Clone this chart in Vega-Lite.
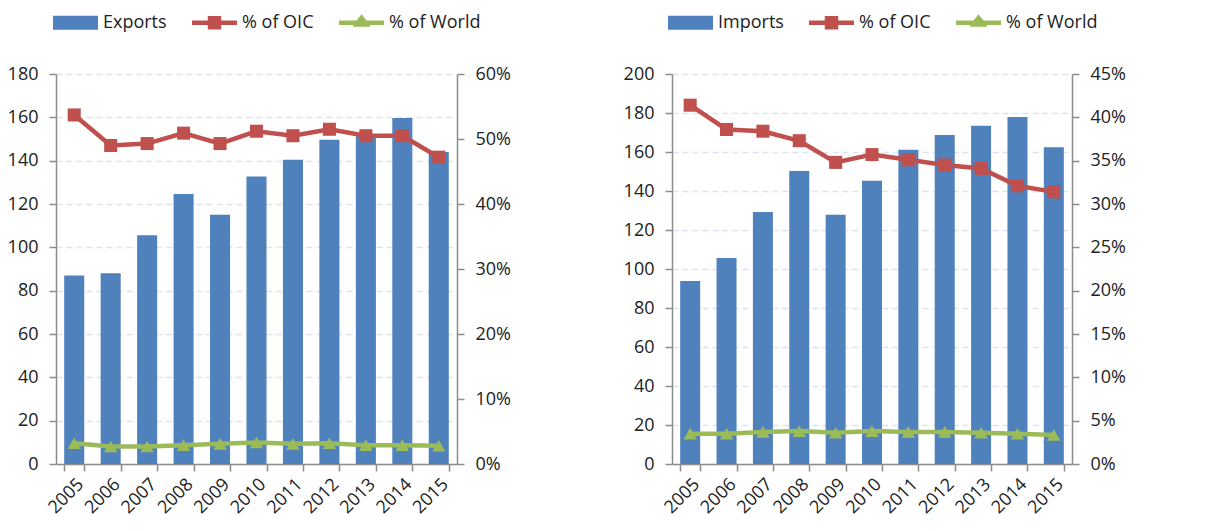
{
  "$schema": "https://vega.github.io/schema/vega-lite/v6.json",
  "background": "white",
  "padding": {"left": 7, "top": 0, "right": 5, "bottom": 0},
  "spacing": 112,
  "config": {
    "view": {"stroke": null},
    "font": "Open Sans",
    "axis": {"labelFont": "Open Sans", "labelFontSize": 18, "labelColor": "#222222", "domainColor": "#8C8C8C", "domainWidth": 1.5, "tickColor": "#8C8C8C", "tickWidth": 1.5, "tickSize": 7, "title": null},
    "legend": {"labelFont": "Open Sans", "labelFontSize": 18, "labelColor": "#222222"}
  },
  "datasets": {
    "exports": [
      {"year": "2005", "trade": 87, "oic": 0.537, "world": 0.032},
      {"year": "2006", "trade": 88, "oic": 0.490, "world": 0.027},
      {"year": "2007", "trade": 105.6, "oic": 0.493, "world": 0.027},
      {"year": "2008", "trade": 124.6, "oic": 0.509, "world": 0.029},
      {"year": "2009", "trade": 115, "oic": 0.493, "world": 0.031},
      {"year": "2010", "trade": 132.7, "oic": 0.512, "world": 0.033},
      {"year": "2011", "trade": 140.4, "oic": 0.505, "world": 0.031},
      {"year": "2012", "trade": 149.7, "oic": 0.515, "world": 0.032},
      {"year": "2013", "trade": 152, "oic": 0.505, "world": 0.029},
      {"year": "2014", "trade": 159.7, "oic": 0.505, "world": 0.029},
      {"year": "2015", "trade": 144, "oic": 0.472, "world": 0.028}
    ],
    "imports": [
      {"year": "2005", "trade": 93.9, "oic": 0.414, "world": 0.035},
      {"year": "2006", "trade": 105.7, "oic": 0.386, "world": 0.035},
      {"year": "2007", "trade": 129.2, "oic": 0.384, "world": 0.037},
      {"year": "2008", "trade": 150.2, "oic": 0.373, "world": 0.038},
      {"year": "2009", "trade": 127.8, "oic": 0.348, "world": 0.036},
      {"year": "2010", "trade": 145.3, "oic": 0.357, "world": 0.038},
      {"year": "2011", "trade": 161.2, "oic": 0.351, "world": 0.037},
      {"year": "2012", "trade": 168.7, "oic": 0.345, "world": 0.037},
      {"year": "2013", "trade": 173.5, "oic": 0.341, "world": 0.036},
      {"year": "2014", "trade": 177.9, "oic": 0.321, "world": 0.035},
      {"year": "2015", "trade": 162.4, "oic": 0.314, "world": 0.0335}
    ]
  },
  "hconcat": [
    {
      "width": 401, "height": 390,
      "data": {"name": "exports"},
      "encoding": {
        "x": {"field": "year", "type": "ordinal", "scale": {"paddingInner": 0.45, "paddingOuter": 0.225},
          "axis": {"labelAngle": -45, "tickBand": "extent", "labelPadding": 4}}
      },
      "layer": [
        {
          "mark": {"type": "bar", "color": "#4F81BD"},
          "encoding": {
            "y": {"field": "trade", "type": "quantitative", "scale": {"domain": [0, 180], "nice": false},
              "axis": {"values": [0, 20, 40, 60, 80, 100, 120, 140, 160, 180], "grid": true, "gridDash": [6, 4], "gridColor": "#DCE4F0", "gridWidth": 1.5, "labelPadding": 11}},
            "color": {"datum": "Exports", "type": "nominal",
              "scale": {"domain": ["Exports", "% of OIC", "% of World"], "range": ["#4F81BD", "#C0504D", "#9BBB59"]},
              "legend": {"orient": "none", "legendX": -3, "legendY": -74, "direction": "horizontal", "title": null,
                "symbolSize": 2025, "columnPadding": 25, "labelOffset": 5,
                "encode": {"symbols": {"update": {
                  "shape": {"signal": "datum.value == 'Exports' ? 'M-1,-0.31H1V0.31H-1Z' : datum.value == '% of OIC' ? 'M-1,-0.1H-0.3V-0.3H0.3V-0.1H1V0.1H0.3V0.3H-0.3V0.1H-1Z' : 'M-1,-0.1H-0.22L0,-0.38L0.22,-0.1H1V0.1H0.35L0.4,0.18H-0.4L-0.35,0.1H-1Z'"},
                  "fill": {"signal": "datum.value == 'Exports' ? '#4F81BD' : datum.value == '% of OIC' ? '#C0504D' : '#9BBB59'"},
                  "strokeWidth": {"value": 0},
                  "opacity": {"value": 1}
                }}}}}
          }
        },
        {
          "layer": [
            {
              "mark": {"type": "line", "color": "#C0504D", "strokeWidth": 4.5, "point": {"shape": "square", "size": 170, "filled": true, "color": "#C0504D"}},
              "encoding": {
                "y": {"field": "oic", "type": "quantitative", "scale": {"domain": [0, 0.6], "nice": false},
                  "axis": {"orient": "right", "format": ".0%", "values": [0, 0.1, 0.2, 0.3, 0.4, 0.5, 0.6], "grid": false, "labelPadding": 11}}
              }
            },
            {
              "mark": {"type": "line", "color": "#9BBB59", "strokeWidth": 4.5, "point": {"shape": "triangle-up", "size": 180, "filled": true, "color": "#9BBB59"}},
              "encoding": {
                "y": {"field": "world", "type": "quantitative", "scale": {"domain": [0, 0.6], "nice": false},
                  "axis": {"orient": "right", "format": ".0%", "values": [0, 0.1, 0.2, 0.3, 0.4, 0.5, 0.6], "grid": false, "labelPadding": 11}}
              }
            }
          ]
        }
      ],
      "resolve": {"scale": {"y": "independent"}}
    },
    {
      "width": 400, "height": 390,
      "data": {"name": "imports"},
      "encoding": {
        "x": {"field": "year", "type": "ordinal", "scale": {"paddingInner": 0.45, "paddingOuter": 0.225},
          "axis": {"labelAngle": -45, "tickBand": "extent", "labelPadding": 4}}
      },
      "layer": [
        {
          "mark": {"type": "bar", "color": "#4F81BD"},
          "encoding": {
            "y": {"field": "trade", "type": "quantitative", "scale": {"domain": [0, 200], "nice": false},
              "axis": {"values": [0, 20, 40, 60, 80, 100, 120, 140, 160, 180, 200], "grid": true, "gridDash": [6, 4], "gridColor": "#DCE4F0", "gridWidth": 1.5, "labelPadding": 11}},
            "color": {"datum": "Imports", "type": "nominal",
              "scale": {"domain": ["Imports", "% of OIC", "% of World"], "range": ["#4F81BD", "#C0504D", "#9BBB59"]},
              "legend": {"orient": "none", "legendX": -4, "legendY": -74, "direction": "horizontal", "title": null,
                "symbolSize": 2025, "columnPadding": 25, "labelOffset": 5,
                "encode": {"symbols": {"update": {
                  "shape": {"signal": "datum.value == 'Imports' ? 'M-1,-0.31H1V0.31H-1Z' : datum.value == '% of OIC' ? 'M-1,-0.1H-0.3V-0.3H0.3V-0.1H1V0.1H0.3V0.3H-0.3V0.1H-1Z' : 'M-1,-0.1H-0.22L0,-0.38L0.22,-0.1H1V0.1H0.35L0.4,0.18H-0.4L-0.35,0.1H-1Z'"},
                  "fill": {"signal": "datum.value == 'Imports' ? '#4F81BD' : datum.value == '% of OIC' ? '#C0504D' : '#9BBB59'"},
                  "strokeWidth": {"value": 0},
                  "opacity": {"value": 1}
                }}}}}
          }
        },
        {
          "layer": [
            {
              "mark": {"type": "line", "color": "#C0504D", "strokeWidth": 4.5, "point": {"shape": "square", "size": 170, "filled": true, "color": "#C0504D"}},
              "encoding": {
                "y": {"field": "oic", "type": "quantitative", "scale": {"domain": [0, 0.45], "nice": false},
                  "axis": {"orient": "right", "format": ".0%", "values": [0, 0.05, 0.1, 0.15, 0.2, 0.25, 0.3, 0.35, 0.4, 0.45], "grid": false, "labelPadding": 11}}
              }
            },
            {
              "mark": {"type": "line", "color": "#9BBB59", "strokeWidth": 4.5, "point": {"shape": "triangle-up", "size": 180, "filled": true, "color": "#9BBB59"}},
              "encoding": {
                "y": {"field": "world", "type": "quantitative", "scale": {"domain": [0, 0.45], "nice": false},
                  "axis": {"orient": "right", "format": ".0%", "values": [0, 0.05, 0.1, 0.15, 0.2, 0.25, 0.3, 0.35, 0.4, 0.45], "grid": false, "labelPadding": 11}}
              }
            }
          ]
        }
      ],
      "resolve": {"scale": {"y": "independent"}}
    }
  ],
  "resolve": {"scale": {"color": "independent"}, "legend": {"color": "independent"}}
}
